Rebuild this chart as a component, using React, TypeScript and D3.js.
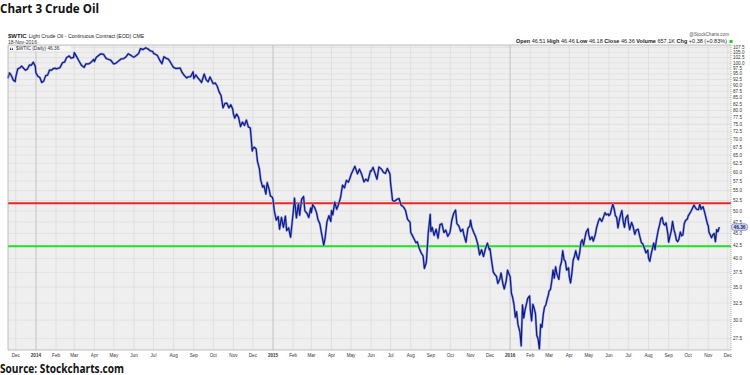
import React from "react";
import * as d3 from "d3";

// monthly blocks of sampled closes (Nov 2013 starts on the 19th, Nov 2016 ends on the 18th)
const wtic2013: number[][] = [
  [93.0, 95.4, 94.8, 93.7, 92.3, 91.6],
  [93.6, 97.2, 97.6, 98.5, 97.5, 96.6, 97.2, 99.0, 98.9, 100.3, 98.4],
];
const wtic2014: number[][] = [
  [95.4, 93.9, 93.4, 91.2, 91.8, 94.2, 94.4, 96.7, 96.6, 97.4, 97.5],
  [97.2, 97.4, 97.8, 100.1, 100.3, 102.4, 103.3, 102.2, 102.6],
  [104.9, 103.3, 101.0, 98.9, 97.9, 99.5, 99.5, 100.3, 101.6],
  [100.6, 102.6, 103.6, 104.3, 104.1, 102.1, 101.7, 101.3, 99.7],
  [99.5, 99.8, 100.8, 101.8, 102.0, 102.6, 104.3, 103.6, 102.7],
  [102.7, 103.4, 104.4, 106.9, 106.4, 107.3, 106.8, 105.8, 105.4],
  [104.5, 104.1, 103.5, 101.0, 99.6, 102.9, 102.1, 101.7, 100.3, 98.2],
  [97.9, 97.4, 97.4, 97.6, 95.6, 94.4, 93.2, 93.7, 93.7, 95.9],
  [92.9, 94.5, 93.3, 92.3, 91.2, 94.9, 92.4, 91.5, 93.6, 91.2],
  [90.7, 91.0, 89.7, 87.3, 85.8, 81.0, 82.7, 82.8, 81.0, 82.2, 80.5],
  [78.8, 77.2, 78.7, 77.4, 74.2, 75.8, 74.6, 76.5, 74.1, 73.7, 66.2],
  [66.9, 67.4, 66.8, 63.1, 60.9, 57.8, 55.9, 56.3, 54.1, 57.1, 55.3, 53.6, 53.3],
];
const wtic2015: number[][] = [
  [52.7, 50.0, 47.9, 48.7, 45.9, 48.5, 46.3, 48.8, 45.6, 46.2, 44.2, 48.2],
  [49.6, 53.1, 48.4, 51.7, 49.0, 52.8, 53.5, 50.0, 49.5, 48.5, 50.7],
  [49.6, 51.5, 50.8, 49.6, 48.1, 47.1, 44.8, 42.6, 43.9, 47.5, 48.9, 47.6],
  [50.1, 49.1, 52.1, 50.4, 51.6, 53.3, 56.4, 55.7, 57.7, 57.2, 58.6],
  [59.2, 60.4, 61.6, 59.5, 60.8, 59.6, 57.3, 58.0, 57.5, 60.3],
  [60.2, 61.3, 59.6, 58.0, 61.4, 60.8, 59.9, 59.6, 61.0, 59.4],
  [56.9, 52.5, 52.3, 52.8, 53.0, 51.4, 50.9, 50.1, 48.1, 47.4],
  [45.2, 44.7, 43.9, 43.1, 43.3, 42.0, 41.1, 40.5, 38.2, 39.3, 45.2, 49.2],
  [45.4, 46.3, 44.6, 45.9, 44.0, 46.9, 47.1, 45.2, 45.7, 44.4, 45.1],
  [45.7, 47.7, 49.4, 50.2, 47.1, 46.6, 45.4, 45.9, 44.6, 43.2, 46.1, 46.6],
  [47.9, 46.3, 45.2, 44.3, 42.9, 40.7, 41.7, 40.4, 41.9, 43.0, 41.7],
  [41.9, 40.0, 37.6, 37.2, 36.8, 35.6, 36.3, 37.4, 35.5, 34.7, 36.1, 37.9, 37.0],
];
const wtic2016: number[][] = [
  [36.8, 34.0, 33.3, 32.2, 30.4, 31.2, 29.4, 28.4, 26.6, 32.2, 30.3, 31.5, 32.3, 33.2, 33.6],
  [31.6, 29.9, 32.3, 31.7, 30.9, 27.9, 27.5, 26.2, 29.4, 29.0, 30.8, 31.9, 32.2, 33.1, 33.8],
  [34.4, 34.6, 35.9, 37.9, 36.5, 38.5, 37.2, 36.3, 38.5, 39.4, 41.5, 39.8, 39.5, 37.9, 38.3],
  [36.8, 35.7, 37.3, 39.7, 40.4, 41.5, 40.4, 39.8, 41.1, 43.2, 43.7, 42.6, 44.0, 45.3, 46.0],
  [44.8, 43.7, 44.3, 43.4, 44.7, 46.2, 47.7, 48.3, 47.6, 48.3, 49.6, 49.1, 49.3],
  [48.9, 49.2, 50.4, 51.6, 50.6, 48.9, 48.5, 46.2, 47.9, 49.1, 50.1, 47.6, 46.3, 48.3, 49.0],
  [47.4, 45.8, 47.4, 46.6, 44.8, 45.7, 45.9, 44.7, 43.1, 42.9, 41.9, 41.1, 41.6],
  [40.1, 39.5, 40.8, 41.9, 43.0, 41.7, 43.5, 45.7, 46.8, 48.2, 48.5, 47.1, 46.8, 47.3, 44.7],
  [43.2, 44.4, 45.5, 47.6, 45.9, 44.9, 43.6, 43.3, 43.9, 45.3, 44.5, 44.7, 47.1, 47.8, 48.2],
  [48.8, 49.3, 49.8, 50.4, 51.4, 50.8, 50.4, 50.3, 51.6, 50.4, 51.0, 49.9, 48.7, 46.9],
  [46.7, 45.3, 44.7, 44.1, 44.7, 45.0, 43.3, 45.8, 45.4, 46.36],
];

const yTicks = [
  27.5, 30.0, 32.5, 35.0, 37.5, 40.0, 42.5, 45.0, 47.5, 50.0, 52.5, 55.0, 57.5, 60.0, 62.5, 65.0, 67.5,
  70.0, 72.5, 75.0, 77.5, 80.0, 82.5, 85.0, 87.5, 90.0, 92.5, 95.0, 97.5, 100.0, 102.5, 105.0, 107.5,
];
const xLabels = [
  "Dec", "2014", "Feb", "Mar", "Apr", "May", "Jun", "Jul", "Aug", "Sep", "Oct", "Nov", "Dec",
  "2015", "Feb", "Mar", "Apr", "May", "Jun", "Jul", "Aug", "Sep", "Oct", "Nov", "Dec",
  "2016", "Feb", "Mar", "Apr", "May", "Jun", "Jul", "Aug", "Sep", "Oct", "Nov", "Dec",
];
const resistance = 51.8;
const support = 42.4;
const lastClose = 46.36;

const W = 750;
const H = 375;
const left = 8;
const right = 731;
const top = 45;
const bottom = 350;
const axisFont = "'Liberation Sans', Arial, sans-serif";

export default function App() {
  // build dated points
  const blocks = [...wtic2013, ...wtic2014, ...wtic2015, ...wtic2016];
  const points: { date: Date; v: number }[] = [];
  blocks.forEach((vals, k) => {
    const year = 2013 + Math.floor((10 + k) / 12);
    const month = (10 + k) % 12;
    const dim = new Date(year, month + 1, 0).getDate();
    const d0 = k === 0 ? 19 : 1;
    const d1 = k === blocks.length - 1 ? 18 : dim;
    vals.forEach((v, i) => {
      const day = d0 + (i * (d1 - d0)) / (vals.length - 1);
      points.push({ date: new Date(year, month, day), v });
    });
  });

  const x = d3
    .scaleTime()
    .domain([new Date(2013, 10, 19), new Date(2016, 11, 6)])
    .range([left, right]);
  const y = d3.scaleLog().domain([26.08, 108.7]).range([bottom, top]);

  const monthTicks = d3.timeMonth.range(new Date(2013, 11, 1), new Date(2016, 11, 2));

  const line = d3
    .line<{ date: Date; v: number }>()
    .x((d) => x(d.date))
    .y((d) => y(d.v));
  const path = line(points) || "";

  return (
    <svg width={W} height={H} style={{ position: "absolute", left: 0, top: 0 }}>
      <rect x={0} y={0} width={W} height={H} fill="#fff" />

      {/* title */}
      <text x={0} y={13} fontFamily="'Open Sans', sans-serif" fontWeight="bold" fontSize={13}
        textLength={99} lengthAdjust="spacingAndGlyphs" fill="#111">
        Chart 3 Crude Oil
      </text>

      {/* header */}
      <text x={8} y={37.5} fontFamily={axisFont} fontSize={5.2} fill="#222">
        <tspan fontWeight="bold" fontSize={6}>$WTIC</tspan>
        <tspan dx={2}>Light Crude Oil - Continuous Contract (EOD) CME</tspan>
      </text>
      <text x={8} y={43.5} fontFamily={axisFont} fontSize={5} fill="#333">18-Nov-2016</text>
      <text x={729} y={36} fontFamily={axisFont} fontSize={4.6} fill="#555" textAnchor="end">@StockCharts.com</text>
      <text x={516} y={43.3} fontFamily={axisFont} fontSize={5.3} fill="#222"
        textLength={211} lengthAdjust="spacingAndGlyphs">
        <tspan fontWeight="bold">Open</tspan> 46.51 <tspan fontWeight="bold">High</tspan> 46.46{" "}
        <tspan fontWeight="bold">Low</tspan> 46.18 <tspan fontWeight="bold">Close</tspan> 46.36{" "}
        <tspan fontWeight="bold">Volume</tspan> 657.1K <tspan fontWeight="bold">Chg</tspan> +0.38 (+0.83%)
      </text>
      <rect x={729.5} y={40} width={3} height={3} fill="#22cc22" />

      {/* plot background */}
      <rect x={left} y={top} width={right - left} height={bottom - top} fill="#efefef" />

      {/* horizontal grid */}
      {yTicks.map((t) => (
        <line key={"h" + t} x1={left} x2={right} y1={y(t)} y2={y(t)} stroke="#dedede" strokeWidth={0.8} />
      ))}
      {/* vertical grid */}
      {monthTicks.map((d, i) => (
        <line key={"v" + i} x1={x(d)} x2={x(d)} y1={top} y2={bottom}
          stroke={d.getMonth() === 0 ? "#c9c9c9" : "#dcdcdc"} strokeWidth={d.getMonth() === 0 ? 1.2 : 0.8} />
      ))}

      {/* support / resistance */}
      <line x1={left} x2={right} y1={y(resistance)} y2={y(resistance)} stroke="#f42222" strokeWidth={2} />
      <line x1={left} x2={right} y1={y(support)} y2={y(support)} stroke="#22e022" strokeWidth={2} />

      {/* price line */}
      <path d={path} fill="none" stroke="#9aa2d4" strokeWidth={2.4} strokeLinejoin="round" />
      <path d={path} fill="none" stroke="#0c1a8c" strokeWidth={1.2} strokeLinejoin="round" />

      {/* legend */}
      <rect x={9} y={46} width={62} height={5} fill="#f7f7f7" />
      <path d="M10,47 L11.5,50 L13,47.5 L13,50 L10,50 Z" fill="#1a2a9a" />
      <text x={16} y={50.2} fontFamily={axisFont} fontSize={4.8} fill="#333">$WTIC (Daily) 46.36</text>

      {/* plot frame */}
      <line x1={left} x2={left} y1={top} y2={bottom} stroke="#b0b0b0" strokeWidth={0.8} />
      <line x1={left} x2={right} y1={top} y2={top} stroke="#b0b0b0" strokeWidth={0.8} />
      <line x1={left} x2={right} y1={bottom} y2={bottom} stroke="#b0b0b0" strokeWidth={0.8} />
      <line x1={right} x2={right} y1={top} y2={bottom} stroke="#a0a0a0" strokeWidth={0.8} strokeDasharray="1,1" />

      {/* y labels */}
      {yTicks.map((t) => (
        <text key={"yl" + t} x={733} y={y(t) + 1.7} fontFamily={axisFont} fontSize={4.6} fill="#333">
          {t.toFixed(1)}
        </text>
      ))}
      <rect x={731.5} y={y(lastClose) - 3.3} width={16} height={6.6} rx={2.5} fill="#d3dcf5" stroke="#5c70c0" strokeWidth={0.6} />
      <text x={739.5} y={y(lastClose) + 1.7} fontFamily={axisFont} fontSize={4.8} fontWeight="bold" fill="#1a1a5a" textAnchor="middle">
        {lastClose.toFixed(2)}
      </text>

      {/* x labels */}
      {monthTicks.map((d, i) => (
        <text key={"xl" + i} x={x(d)} y={356.5} textAnchor="middle" fontFamily={axisFont}
          fontSize={4.6} fontWeight={d.getMonth() === 0 ? "bold" : "normal"} fill="#333">
          {xLabels[i]}
        </text>
      ))}

      {/* source */}
      <text x={0} y={372.5} fontFamily="'Open Sans', sans-serif" fontWeight="bold" fontSize={12.5}
        textLength={124} lengthAdjust="spacingAndGlyphs" fill="#111">
        Source: Stockcharts.com
      </text>
    </svg>
  );
}
